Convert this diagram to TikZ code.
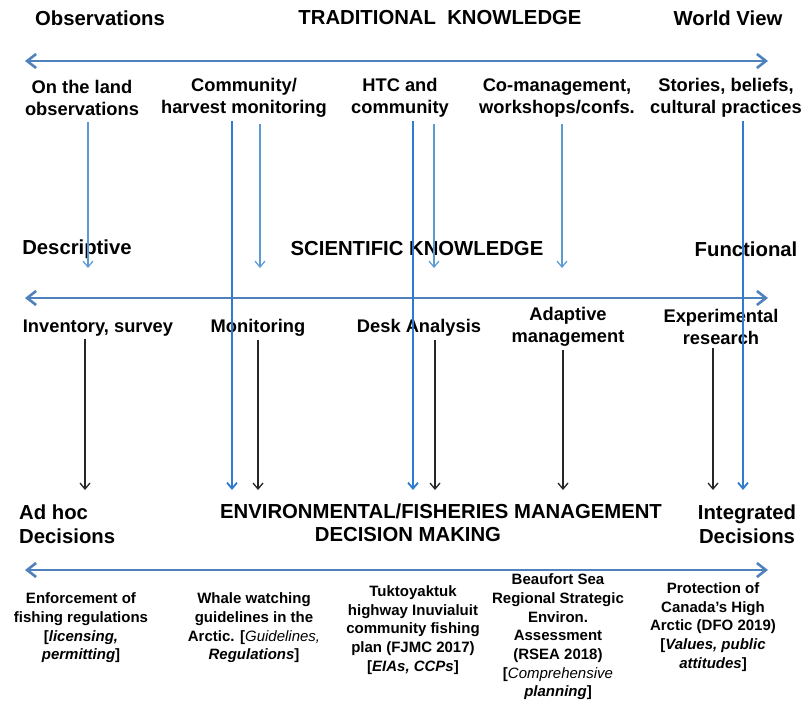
\documentclass[tikz,border=0pt]{standalone}
\usepackage{fontspec}
\setmainfont{Liberation Sans}
\usetikzlibrary{arrows.meta}

\definecolor{axisblue}{RGB}{79,129,189}
\definecolor{linkblue}{RGB}{46,123,207}
\definecolor{tkblue}{RGB}{91,155,213}

\tikzset{
  axis/.style={draw=axisblue,line width=2.6pt,
    {Straight Barb[length=9pt,width=14pt]}-{Straight Barb[length=9pt,width=14pt]}},
  head/.style={font=\bfseries\fontsize{20.3}{24}\selectfont,align=center,inner sep=1pt},
  lab/.style={font=\bfseries\fontsize{18.3}{22.5}\selectfont,align=center,inner sep=3pt},
  note/.style={font=\bfseries\fontsize{15}{18.7}\selectfont,align=center,inner sep=1pt},
  tkarrow/.style={draw=tkblue,line width=1.2pt,-{Straight Barb[length=6pt,width=10pt]}},
  linkarrow/.style={draw=linkblue,line width=1.8pt,-{Straight Barb[length=6pt,width=10pt]}},
  sciarrow/.style={draw=black!85,line width=1.3pt,-{Straight Barb[length=6pt,width=10pt]}}
}

\begin{document}
\begin{tikzpicture}[x=1pt,y=-1pt]
\useasboundingbox (0,0) rectangle (805,702);

% traditional knowledge
\node[head] (obs) at (100,18) {Observations};
\node[head] (trad) at (440,18) {TRADITIONAL\ \ KNOWLEDGE};
\node[head] (wview) at (728,18) {World View};
\coordinate (tkl) at (25,61);
\coordinate (tkr) at (768,61);
\draw[axis] (tkl) -- (tkr);
\node[lab] (land) at (82,98) {On the land\\observations};
\node[lab] (commun) at (244,98) {Community/\\harvest monitoring};
\node[lab] (htc) at (400,98) {HTC and\\community};
\node[lab] (comgt) at (557,98) {Co-management,\\workshops/confs.};
\node[lab] (stories) at (726,98) {Stories, beliefs,\\cultural practices};

% scientific knowledge
\node[head] (descr) at (77,249) {Descriptive};
\node[head] (sci) at (417,249) {SCIENTIFIC KNOWLEDGE};
\node[head] (func) at (746,249) {Functional};
\coordinate (skl) at (25,298);
\coordinate (skr) at (768,298);
\draw[axis] (skl) -- (skr);
\node[lab] (inv) at (98,328) {Inventory, survey};
\node[lab] (monit) at (258,328) {Monitoring};
\node[lab] (desk) at (419,328) {Desk Analysis};
\node[lab] (adapt) at (568,327) {Adaptive\\management};
\node[lab] (exper) at (721,327) {Experimental\\research};

% decision making
\node[head,anchor=west,align=left] (adhoc) at (18,524) {Ad hoc\\Decisions};
\node[head] (dm1) at (441,511) {ENVIRONMENTAL/FISHERIES MANAGEMENT};
\node[head] (dm2) at (408,535) {DECISION MAKING};
\node[head] (integ) at (747,524) {Integrated\\Decisions};
\coordinate (dml) at (25,570);
\coordinate (dmr) at (768,570);
\draw[axis] (dml) -- (dmr);

\node[note] (enf) at (81,628) {Enforcement of\\fishing regulations\\{[}\textit{licensing,}\\\textit{permitting}]};
\node[note] (whale) at (254,628) {Whale watching\\guidelines in the\\Arctic. [{\mdseries\itshape Guidelines,}\\\textit{Regulations}]};
\node[note] (tuk) at (413,630) {Tuktoyaktuk\\highway Inuvialuit\\community fishing\\plan (FJMC 2017)\\{[}\textit{EIAs, CCPs}]};
\node[note] (beau) at (558,637) {Beaufort Sea\\Regional Strategic\\Environ.\\Assessment\\(RSEA 2018)\\{[}{\mdseries\itshape Comprehensive}\\\textit{planning}]};
\node[note] (prot) at (713,627) {Protection of\\Canada’s High\\Arctic (DFO 2019)\\{[}\textit{Values, public}\\\textit{attitudes}]};

% traditional into scientific
\foreach \x [count=\i] in {88,260,434,562}
  \coordinate (tk\i) at (\x,268);
\foreach \n/\i in {land/1,commun/2,htc/3,comgt/4}
  \draw[tkarrow] ([yshift=-3pt]tk\i |- \n.south) -- (tk\i);

% traditional straight into decisions
\foreach \x [count=\i] in {232,413,743}
  \coordinate (lk\i) at (\x,490);
\foreach \n/\i in {commun/1,htc/2,stories/3}
  \draw[linkarrow] (lk\i |- \n.south) -- (lk\i);

% scientific into decisions
\foreach \x [count=\i] in {85,258,435,563,713}
  \coordinate (sk\i) at (\x,490);
\foreach \n/\i in {inv/1,monit/2,desk/3,adapt/4,exper/5}
  \draw[sciarrow] (sk\i |- \n.south) -- (sk\i);
\end{tikzpicture}
\end{document}
